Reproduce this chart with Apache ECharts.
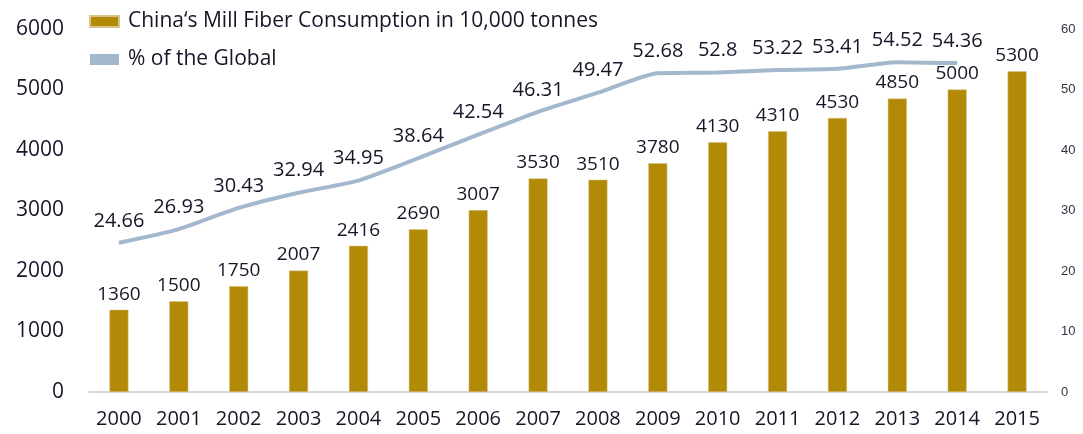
<!DOCTYPE html>
<html>
<head>
<meta charset="utf-8">
<script src="https://cdn.jsdelivr.net/npm/echarts@6/dist/echarts.min.js"></script>
<style>
  html, body { margin: 0; padding: 0; background: #fff; }
  #chart { width: 1083px; height: 434px; }
</style>
</head>
<body>
<div id="chart"></div>
<script>
// Years on the category axis
const years = ['2000','2001','2002','2003','2004','2005','2006','2007','2008','2009','2010','2011','2012','2013','2014','2015'];
// China's mill fiber consumption, 10,000 tonnes
const consumption = [1360, 1500, 1750, 2007, 2416, 2690, 3007, 3530, 3510, 3780, 4130, 4310, 4530, 4850, 5000, 5300];
// China's share of global consumption, %
const globalShare = [24.66, 26.93, 30.43, 32.94, 34.95, 38.64, 42.54, 46.31, 49.47, 52.68, 52.8, 53.22, 53.41, 54.52, 54.36];

const font = '"Open Sans", "Noto Sans", sans-serif';
const textColor = '#161628';

const chart = echarts.init(document.getElementById('chart'));
chart.setOption({
  animation: false,
  textStyle: { fontFamily: font },
  legend: {
    orient: 'vertical',
    left: 84,
    top: 6,
    itemWidth: 29,
    itemHeight: 11,
    itemGap: 17,
    textStyle: { fontSize: 21, color: textColor, fontFamily: font, padding: [0, 0, 0, 4] },
    data: [
      { name: 'China‘s Mill Fiber Consumption in 10,000 tonnes', icon: 'rect' },
      { name: '% of the Global', icon: 'rect', itemStyle: { color: '#a3b8cc' } }
    ]
  },
  grid: { left: 89, right: 36, top: 29, bottom: 42 },
  xAxis: {
    type: 'category',
    data: years,
    axisLine: { lineStyle: { color: '#d9d9d9', width: 2 } },
    axisTick: { show: false },
    axisLabel: { interval: 0, hideOverlap: false, fontSize: 20, color: textColor, margin: 17, fontFamily: font }
  },
  yAxis: [
    {
      type: 'value',
      min: 0, max: 6000, interval: 1000,
      splitLine: { show: false },
      axisLine: { show: false },
      axisTick: { show: false },
      axisLabel: { fontSize: 21, color: textColor, margin: 25, fontFamily: font, formatter: v => String(v) }
    },
    {
      type: 'value',
      min: 0, max: 60, interval: 10,
      splitLine: { show: false },
      axisLine: { show: false },
      axisTick: { show: false },
      axisLabel: { fontSize: 13, color: '#333344', margin: 14, fontFamily: 'Liberation Sans, Arial, sans-serif' }
    }
  ],
  series: [
    {
      name: 'China‘s Mill Fiber Consumption in 10,000 tonnes',
      type: 'bar',
      data: consumption,
      barWidth: 19,
      itemStyle: { color: '#b38a08', borderColor: '#d8c38a', borderWidth: 0.5 },
      label: { show: true, position: 'top', distance: 6, fontSize: 19, color: textColor, fontFamily: font }
    },
    {
      name: '% of the Global',
      type: 'line',
      yAxisIndex: 1,
      data: globalShare,
      smooth: 0.2,
      symbol: 'circle',
      symbolSize: 0,
      lineStyle: { color: '#a3b8cc', width: 4 },
      itemStyle: { color: '#a3b8cc' },
      label: { show: true, position: 'top', distance: 12, fontSize: 20, color: textColor, fontFamily: font }
    }
  ]
});
</script>
</body>
</html>
